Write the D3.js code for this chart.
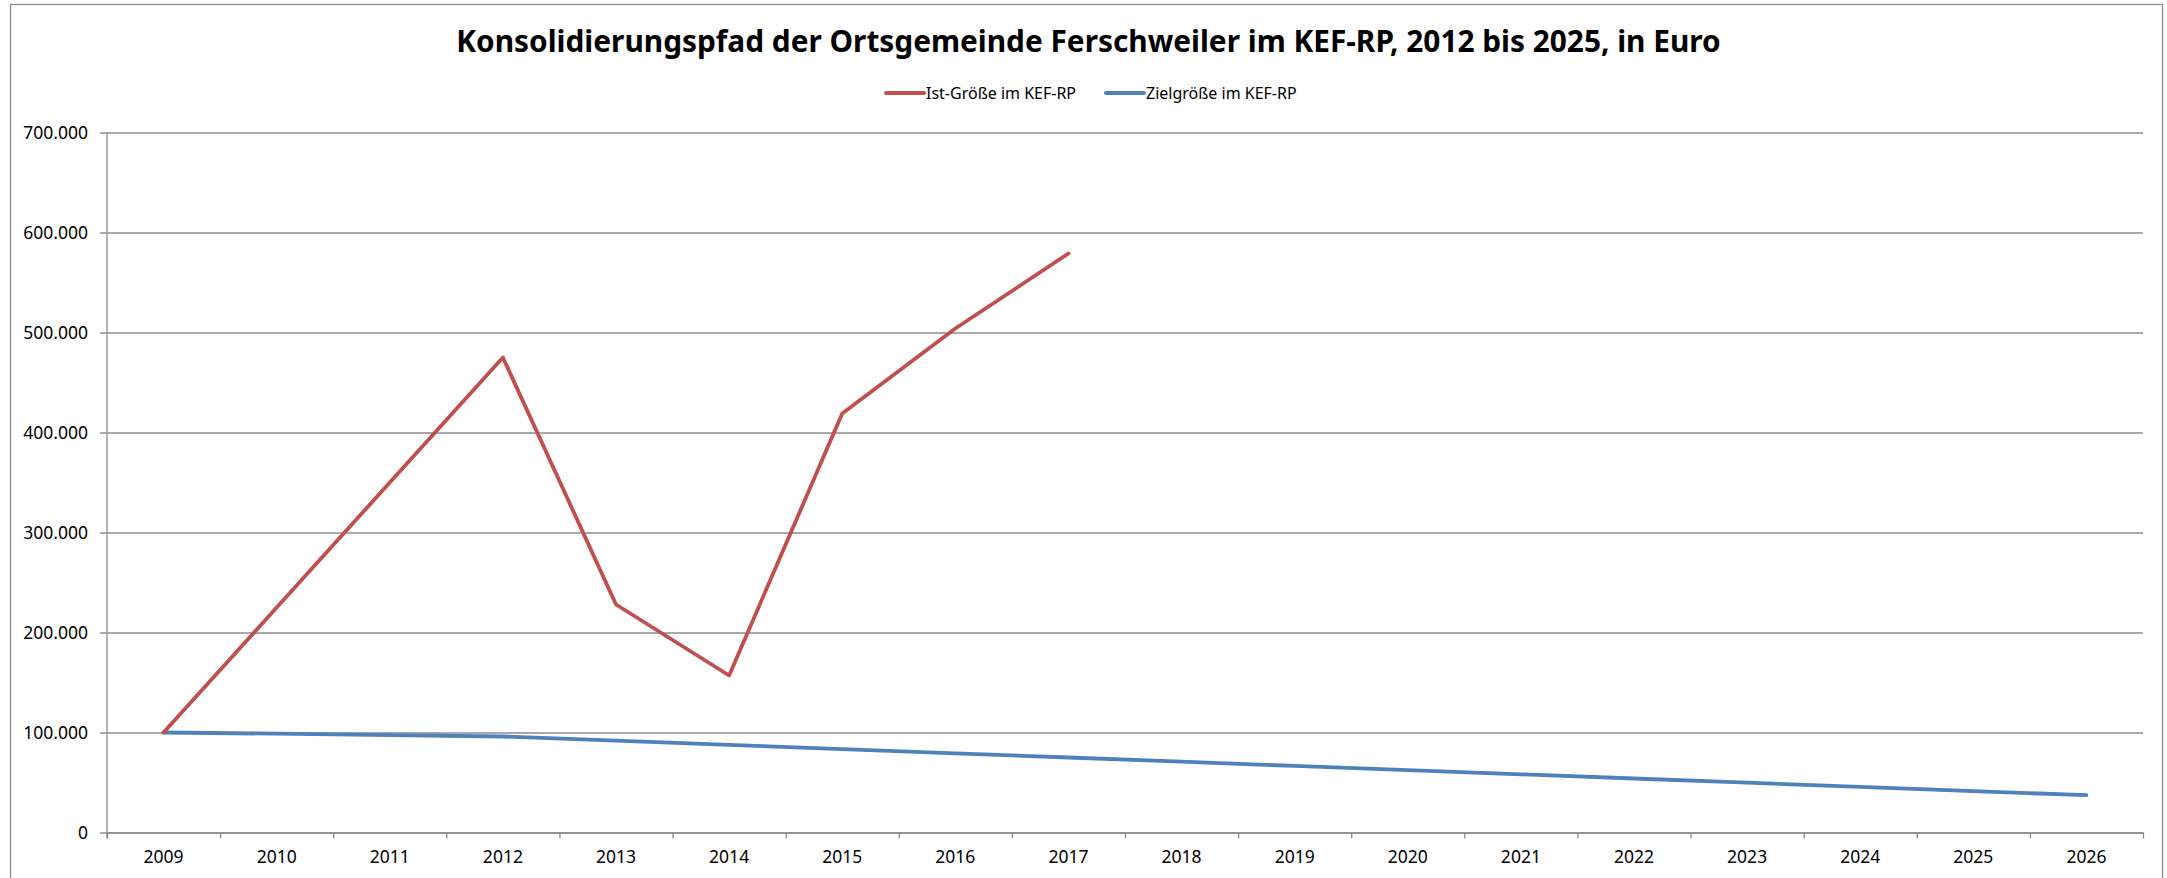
<!DOCTYPE html>
<html>
<head>
<meta charset="utf-8">
<script src="https://cdn.jsdelivr.net/npm/d3@7"></script>
<style>
  body { margin: 0; background: #fff; }
  svg { display: block; font-family: "Noto Sans", "Open Sans", sans-serif; }
</style>
</head>
<body>
<script>
var width = 2167, height = 878;

var years = ["2009", "2010", "2011", "2012", "2013", "2014", "2015", "2016", "2017",
             "2018", "2019", "2020", "2021", "2022", "2023", "2024", "2025", "2026"];

// Ist-Größe: nur bis 2017 vorhanden
var istYears = ["2009", "2010", "2011", "2012", "2013", "2014", "2015", "2016", "2017"];
var istValues = [100000, 225000, 350000, 475000, 228000, 157000, 419000, 504000, 579000];

var zielValues = [100000, 98800, 97400, 96000, 91800, 87600, 83400, 79200, 75000,
                  70800, 66600, 62400, 58200, 54000, 49800, 45600, 41400, 37300];

var yTicks = [0, 100000, 200000, 300000, 400000, 500000, 600000, 700000];

var seriesNames = ["Ist-Größe im KEF-RP", "Zielgröße im KEF-RP"];
var seriesColors = ["#C0504D", "#4F81BD"];

var titleText = "Konsolidierungspfad der Ortsgemeinde Ferschweiler im KEF-RP, 2012 bis 2025, in Euro";

var margin = {left: 107, right: 24, top: 132.5, bottom: 45.5};
var plotW = width - margin.left - margin.right;
var plotH = height - margin.top - margin.bottom;

var de = d3.formatLocale({decimal: ",", thousands: ".", grouping: [3], currency: ["", " €"]});
var fmt = de.format(",.0f");

var svg = d3.select("body").append("svg")
    .attr("width", width)
    .attr("height", height);

// Rahmen
svg.append("rect")
    .attr("x", 10.5).attr("y", 4.5)
    .attr("width", 2152).attr("height", 900)
    .attr("fill", "#fff")
    .attr("stroke", "#8e8e8e")
    .attr("stroke-width", 1.3);

// Titel
var title = svg.append("text")
    .attr("x", 1088.5).attr("y", 52)
    .attr("text-anchor", "middle")
    .attr("font-weight", "bold")
    .attr("font-size", 28)
    .attr("fill", "#000")
    .text(titleText);
var tw = title.node().getComputedTextLength();
title.attr("font-size", 28 * 1265 / tw);

var g = svg.append("g")
    .attr("transform", "translate(" + margin.left + "," + margin.top + ")");

var x = d3.scaleBand().domain(years).range([0, plotW]).padding(0);
var xIdx = d3.scaleLinear().domain([0, years.length]).range([0, plotW]);
var y = d3.scaleLinear().domain([0, 700000]).range([plotH, 0]);

// y-Achse mit Gitternetz
var yAxis = g.append("g")
    .call(d3.axisLeft(y).tickValues(yTicks).tickFormat(fmt).tickSizeInner(-plotW).tickSizeOuter(0).tickPadding(19));
yAxis.select(".domain").remove();
yAxis.selectAll(".tick line")
    .attr("x1", -7).attr("x2", plotW)
    .attr("stroke", "#8c8c8c").attr("stroke-width", 1.3);
yAxis.selectAll(".tick text")
    .attr("font-size", 17.5).attr("fill", "#000")
    .attr("font-family", "'Noto Sans', sans-serif");

g.append("line")
    .attr("x1", 0).attr("x2", 0).attr("y1", 0).attr("y2", plotH + 6)
    .attr("stroke", "#8c8c8c").attr("stroke-width", 1.3);

// x-Achse: Striche an Kategoriegrenzen
var xTicks = g.append("g")
    .attr("transform", "translate(0," + plotH + ")")
    .call(d3.axisBottom(xIdx).tickValues(d3.range(years.length + 1)).tickFormat("").tickSizeInner(6).tickSizeOuter(0));
xTicks.select(".domain").attr("stroke", "#8c8c8c").attr("stroke-width", 1.3);
xTicks.selectAll(".tick line").attr("stroke", "#8c8c8c").attr("stroke-width", 1.3);

var xLabels = g.append("g")
    .attr("transform", "translate(0," + plotH + ")")
    .call(d3.axisBottom(x).tickSize(0).tickPadding(18));
xLabels.select(".domain").remove();
xLabels.selectAll(".tick text")
    .attr("font-size", 17.5).attr("fill", "#000")
    .attr("font-family", "'Noto Sans', sans-serif");

// Linien
var line = d3.line()
    .x(function(d) { return x(d.year) + x.bandwidth() / 2; })
    .y(function(d) { return y(d.value); });

var zielData = years.map(function(yr, i) { return {year: yr, value: zielValues[i]}; });
var istData = istYears.map(function(yr, i) { return {year: yr, value: istValues[i]}; });

g.append("path")
    .datum(zielData)
    .attr("d", line)
    .attr("fill", "none")
    .attr("stroke", seriesColors[1])
    .attr("stroke-width", 3.8)
    .attr("stroke-linejoin", "round")
    .attr("stroke-linecap", "round");

g.append("path")
    .datum(istData)
    .attr("d", line)
    .attr("fill", "none")
    .attr("stroke", seriesColors[0])
    .attr("stroke-width", 3.8)
    .attr("stroke-linejoin", "round")
    .attr("stroke-linecap", "round");

// Legende
var legendX = [886, 1106];
var legend = svg.append("g");
seriesNames.forEach(function(name, i) {
    legend.append("line")
        .attr("x1", legendX[i]).attr("x2", legendX[i] + 38)
        .attr("y1", 93).attr("y2", 93)
        .attr("stroke", seriesColors[i])
        .attr("stroke-width", 4)
        .attr("stroke-linecap", "round");
    legend.append("text")
        .attr("x", legendX[i] + 40).attr("y", 99)
        .attr("font-size", 16)
        .attr("fill", "#000")
        .text(name);
});
</script>
</body>
</html>
